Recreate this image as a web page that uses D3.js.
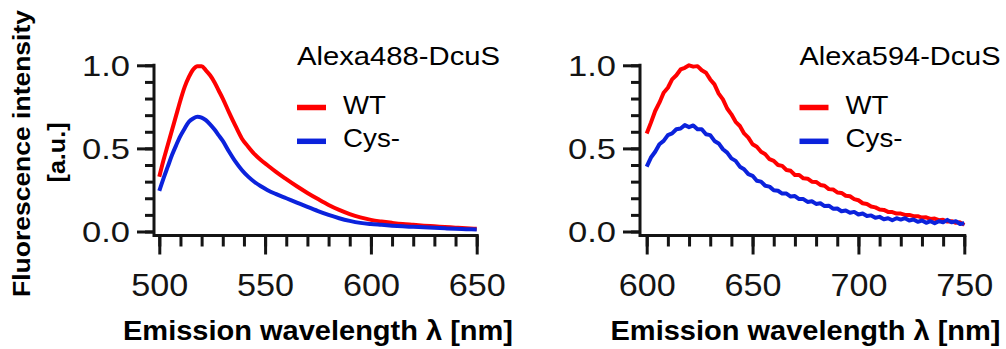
<!DOCTYPE html>
<html>
<head>
<meta charset="utf-8">
<script src="https://cdn.jsdelivr.net/npm/d3@7"></script>
<style>
  html, body { margin: 0; padding: 0; background: #fff; }
  svg { display: block; }
</style>
</head>
<body>
<svg id="chart" width="1006" height="349"></svg>
<script>
// ---- data -------------------------------------------------------------
const seriesNames = ["WT", "Cys-"];
const panelTitles = ["Alexa488-DcuS", "Alexa594-DcuS"];
const xAxisTitle = "Emission wavelength λ [nm]";
const yAxisTitle = ["Fluorescence intensity", "[a.u.]"];
const yTickValues = [0, 0.5, 1.0];
const yTickLabels = ["0.0", "0.5", "1.0"];
const xTicksA488 = [500, 550, 600, 650];
const xTicksA594 = [600, 650, 700, 750];

// Alexa488-DcuS emission spectra (normalised)
const wlA488 = [500, 502, 504, 506, 508, 510, 512, 514, 516, 518, 520, 522, 524, 526, 528, 530,
  533, 536, 539, 542, 545, 548, 551, 555, 560, 565, 570, 575, 580, 585, 590, 595, 600, 605,
  610, 615, 620, 625, 630, 635, 640, 645, 650];
const wtA488 = [0.33, 0.43, 0.52, 0.61, 0.70, 0.79, 0.87, 0.93, 0.975, 0.995, 0.995, 0.97, 0.94,
  0.90, 0.85, 0.80, 0.715, 0.635, 0.56, 0.51, 0.465, 0.43, 0.40, 0.36, 0.315, 0.272, 0.232, 0.195,
  0.16, 0.13, 0.105, 0.085, 0.07, 0.06, 0.052, 0.045, 0.04, 0.035, 0.031, 0.027, 0.023, 0.019, 0.016];
const cysA488 = [0.245, 0.32, 0.39, 0.46, 0.52, 0.575, 0.62, 0.66, 0.68, 0.69, 0.685, 0.67, 0.645,
  0.615, 0.58, 0.545, 0.48, 0.42, 0.37, 0.33, 0.298, 0.272, 0.25, 0.226, 0.20, 0.174, 0.148, 0.123,
  0.10, 0.08, 0.064, 0.052, 0.045, 0.04, 0.035, 0.031, 0.028, 0.025, 0.022, 0.019, 0.016, 0.014, 0.012];

// Alexa594-DcuS emission spectra (normalised)
const wlA594 = [600, 602, 604, 606, 608, 610, 612, 614, 616, 618, 620, 622, 624, 626, 628, 630,
  632, 634, 636, 638, 640, 642, 644, 646, 648, 650, 652, 654, 656, 658, 660, 662, 664, 666, 668,
  670, 672, 674, 676, 678, 680, 682, 684, 686, 688, 690, 692, 694, 696, 698, 700, 702, 704, 706,
  708, 710, 712, 714, 716, 718, 720, 722, 724, 726, 728, 730, 732, 734, 736, 738, 740, 742, 744,
  746, 748, 750];
const wtA594 = [0.59, 0.655, 0.725, 0.775, 0.835, 0.865, 0.915, 0.94, 0.975, 0.985, 1.0, 0.992,
  0.995, 0.97, 0.955, 0.915, 0.885, 0.83, 0.795, 0.74, 0.705, 0.66, 0.635, 0.59, 0.565, 0.525,
  0.51, 0.48, 0.465, 0.435, 0.425, 0.40, 0.395, 0.37, 0.365, 0.34, 0.34, 0.32, 0.318, 0.30, 0.298,
  0.28, 0.275, 0.255, 0.253, 0.235, 0.232, 0.215, 0.212, 0.195, 0.188, 0.17, 0.165, 0.15, 0.145,
  0.132, 0.13, 0.118, 0.117, 0.108, 0.108, 0.10, 0.10, 0.092, 0.092, 0.084, 0.085, 0.076, 0.078,
  0.068, 0.07, 0.06, 0.062, 0.052, 0.055, 0.04];
const cysA594 = [0.39, 0.445, 0.48, 0.525, 0.545, 0.58, 0.59, 0.615, 0.62, 0.64, 0.628, 0.638,
  0.615, 0.615, 0.585, 0.58, 0.545, 0.53, 0.495, 0.475, 0.44, 0.425, 0.39, 0.375, 0.345, 0.335,
  0.305, 0.30, 0.275, 0.27, 0.248, 0.245, 0.228, 0.228, 0.21, 0.213, 0.195, 0.195, 0.178, 0.182,
  0.166, 0.17, 0.153, 0.155, 0.137, 0.138, 0.122, 0.126, 0.113, 0.118, 0.102, 0.108, 0.093, 0.097,
  0.083, 0.088, 0.074, 0.08, 0.068, 0.08, 0.072, 0.08, 0.066, 0.072, 0.058, 0.066, 0.052, 0.062,
  0.05, 0.062, 0.055, 0.07, 0.055, 0.062, 0.045, 0.05];

// ---- layout -------------------------------------------------------------
const FONT = "'Liberation Sans', Arial, Helvetica, sans-serif";
const INK = "#141414";
const COLORS = ["#ff0000", "#0b22dc"];
const AXIS_Y = 235.5;          // baseline of the x axes
const PLOT_Y = [231.5, 65.3];  // pixel range for intensity 0 .. 1

const panels = [
  { title: panelTitles[0], wl: wlA488, series: [wtA488, cysA488], ticks: xTicksA488,
    axisX: 154, xRange: [159.3, 476.7], legendX: 297, titleLen: 203, curve: d3.curveMonotoneX },
  { title: panelTitles[1], wl: wlA594, series: [wtA594, cysA594], ticks: xTicksA594,
    axisX: 640, xRange: [646.7, 964.3], legendX: 799.5, titleLen: 201, curve: d3.curveLinear }
];

const svg = d3.select("#chart");

panels.forEach(p => {
  const g = svg.append("g");
  const x = d3.scaleLinear().domain(d3.extent(p.ticks)).range(p.xRange);
  const y = d3.scaleLinear().domain([0, 1]).range(PLOT_Y);

  // minor + major ticks on the x axis
  const gxMinor = g.append("g").attr("transform", `translate(0,${AXIS_Y})`)
    .call(d3.axisBottom(x).tickValues(x.ticks(15)).tickSize(11).tickFormat(""));
  const gxMajor = g.append("g").attr("transform", `translate(0,${AXIS_Y})`)
    .call(d3.axisBottom(x).tickValues(p.ticks).tickSize(19).tickFormat(d3.format("d")));

  // minor + major ticks on the y axis
  const gyMinor = g.append("g").attr("transform", `translate(${p.axisX},0)`)
    .call(d3.axisLeft(y).tickValues(y.ticks(10)).tickSize(9).tickFormat(""));
  const gyMajor = g.append("g").attr("transform", `translate(${p.axisX},0)`)
    .call(d3.axisLeft(y).tickValues(yTickValues).tickSize(17)
      .tickFormat((d, i) => yTickLabels[i]));

  [gxMinor, gxMajor, gyMinor, gyMajor].forEach(a => {
    a.select(".domain").remove();
    a.selectAll(".tick line").attr("stroke", INK).attr("stroke-width", 3);
  });

  gxMajor.selectAll(".tick text")
    .attr("dy", null)
    .attr("y", 60)
    .attr("fill", INK)
    .style("font-family", FONT).style("font-size", "32px")
    .attr("text-anchor", "middle")
    .attr("textLength", 57).attr("lengthAdjust", "spacingAndGlyphs");

  gyMajor.selectAll(".tick text")
    .attr("x", -24).attr("dy", "0.34em")
    .attr("fill", INK)
    .style("font-family", FONT).style("font-size", "29px")
    .attr("text-anchor", "end")
    .attr("textLength", 48).attr("lengthAdjust", "spacingAndGlyphs");

  // axis lines (L shape)
  g.append("path")
    .attr("d", d3.line()([
      [p.axisX, y(1) - 1.5],
      [p.axisX, AXIS_Y],
      [x.range()[1] + 2, AXIS_Y]
    ]))
    .attr("fill", "none").attr("stroke", INK).attr("stroke-width", 3);

  // spectra
  const line = d3.line().curve(p.curve).x(d => x(d[0])).y(d => y(d[1]));
  p.series.forEach((vals, si) => {
    g.append("path")
      .datum(p.wl.map((w, i) => [w, vals[i]]))
      .attr("d", line)
      .attr("fill", "none")
      .attr("stroke", COLORS[si])
      .attr("stroke-width", 4)
      .attr("stroke-linejoin", "round")
      .attr("stroke-linecap", "butt");
  });

  // panel title
  g.append("text")
    .attr("x", p.legendX).attr("y", 65)
    .text(p.title)
    .attr("fill", "#000")
    .style("font-family", FONT).style("font-size", "26px")
    .attr("textLength", p.titleLen).attr("lengthAdjust", "spacingAndGlyphs");

  // legend
  const legendY = [107.5, 141.3];
  const legendText = [113.5, 147];
  const legendLen = [43, 57];
  seriesNames.forEach((name, si) => {
    g.append("line")
      .attr("x1", p.legendX).attr("x2", p.legendX + 29)
      .attr("y1", legendY[si]).attr("y2", legendY[si])
      .attr("stroke", COLORS[si]).attr("stroke-width", 5.5);
    g.append("text")
      .attr("x", p.legendX + 46).attr("y", legendText[si])
      .text(name)
      .attr("fill", "#000")
      .style("font-family", FONT).style("font-size", "25.5px")
      .attr("textLength", legendLen[si]).attr("lengthAdjust", "spacingAndGlyphs");
  });

  // x axis title
  g.append("text")
    .attr("x", (x.range()[0] + x.range()[1]) / 2).attr("y", 339.5)
    .attr("text-anchor", "middle")
    .text(xAxisTitle)
    .attr("fill", "#000")
    .style("font-family", FONT).style("font-size", "28px").style("font-weight", "bold")
    .attr("textLength", 390).attr("lengthAdjust", "spacingAndGlyphs");
});

// y axis title (shared, two lines)
const yt = svg.append("g");
yt.append("text")
  .attr("transform", "translate(30,153.5) rotate(-90)")
  .attr("text-anchor", "middle")
  .text(yAxisTitle[0])
  .attr("fill", "#000")
  .style("font-family", FONT).style("font-size", "23.5px").style("font-weight", "bold")
  .attr("textLength", 287).attr("lengthAdjust", "spacingAndGlyphs");
yt.append("text")
  .attr("transform", "translate(65,152.5) rotate(-90)")
  .attr("text-anchor", "middle")
  .text(yAxisTitle[1])
  .attr("fill", "#000")
  .style("font-family", FONT).style("font-size", "24px").style("font-weight", "bold")
  .attr("textLength", 60).attr("lengthAdjust", "spacingAndGlyphs");
</script>
</body>
</html>
